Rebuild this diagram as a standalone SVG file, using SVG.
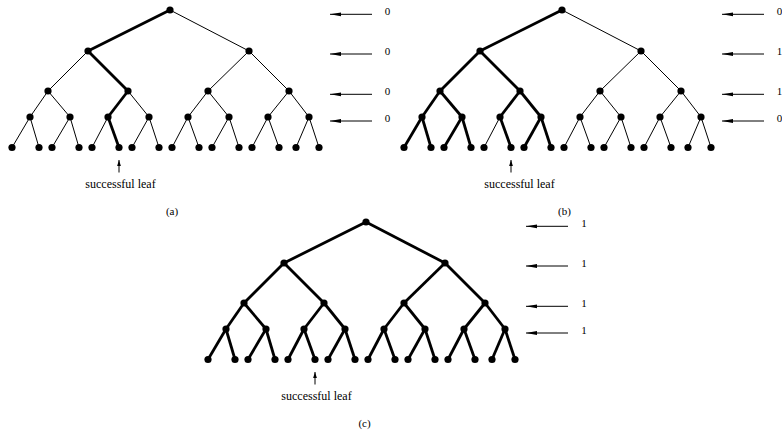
<svg xmlns="http://www.w3.org/2000/svg" width="782" height="433" viewBox="0 0 782 433">
<style>
.t{stroke:#000;stroke-width:1;fill:none}
.b{stroke:#000;stroke-width:2.8;fill:none}
.n{fill:#000}
.ar{stroke:#000;stroke-width:1;fill:none;marker-end:url(#ah)}
.up{stroke:#000;stroke-width:1;fill:none;marker-end:url(#ahs)}
.lab{font-size:11px;text-anchor:middle}
.sl{font-size:12px;text-anchor:middle}
.cap{font-size:11px;text-anchor:middle}
</style>
<defs>
<marker id="ah" markerWidth="11" markerHeight="5" refX="11" refY="2.5" orient="auto" markerUnits="userSpaceOnUse"><path d="M0,0.6 L11,2.5 L0,4.4 Z" fill="#000"/></marker>
<marker id="ahs" markerWidth="6" markerHeight="5" refX="6" refY="2.5" orient="auto" markerUnits="userSpaceOnUse"><path d="M0,0.6 L6,2.5 L0,4.4 Z" fill="#000"/></marker>
</defs>

<!-- ===== Tree (a) ===== -->
<g id="tree-a">
<g id="connectors-a">
<line class="b" x1="170" y1="10" x2="88" y2="51"/>
<line class="t" x1="170" y1="10" x2="249" y2="51"/>
<line class="t" x1="88" y1="51" x2="48" y2="91"/>
<line class="b" x1="88" y1="51" x2="128" y2="91"/>
<line class="t" x1="249" y1="51" x2="208" y2="91"/>
<line class="t" x1="249" y1="51" x2="289" y2="91"/>
<line class="t" x1="48" y1="91" x2="30" y2="117"/>
<line class="t" x1="48" y1="91" x2="70" y2="117"/>
<line class="b" x1="128" y1="91" x2="108" y2="117"/>
<line class="t" x1="128" y1="91" x2="149" y2="117"/>
<line class="t" x1="208" y1="91" x2="188" y2="117"/>
<line class="t" x1="208" y1="91" x2="229" y2="117"/>
<line class="t" x1="289" y1="91" x2="268" y2="117"/>
<line class="t" x1="289" y1="91" x2="309" y2="117"/>
<line class="t" x1="30" y1="117" x2="12" y2="147.5"/>
<line class="t" x1="30" y1="117" x2="39" y2="147.5"/>
<line class="t" x1="70" y1="117" x2="52" y2="147.5"/>
<line class="t" x1="70" y1="117" x2="79" y2="147.5"/>
<line class="t" x1="108" y1="117" x2="92" y2="147.5"/>
<line class="b" x1="108" y1="117" x2="119" y2="147.5"/>
<line class="t" x1="149" y1="117" x2="132" y2="147.5"/>
<line class="t" x1="149" y1="117" x2="159" y2="147.5"/>
<line class="t" x1="188" y1="117" x2="172" y2="147.5"/>
<line class="t" x1="188" y1="117" x2="199" y2="147.5"/>
<line class="t" x1="229" y1="117" x2="212" y2="147.5"/>
<line class="t" x1="229" y1="117" x2="239" y2="147.5"/>
<line class="t" x1="268" y1="117" x2="252" y2="147.5"/>
<line class="t" x1="268" y1="117" x2="279" y2="147.5"/>
<line class="t" x1="309" y1="117" x2="296" y2="147.5"/>
<line class="t" x1="309" y1="117" x2="319" y2="147.5"/>
<line class="ar" x1="372" y1="14.3" x2="330" y2="14.3"/>
<line class="ar" x1="372" y1="54" x2="330" y2="54"/>
<line class="ar" x1="372" y1="94.3" x2="330" y2="94.3"/>
<line class="ar" x1="372" y1="121" x2="330" y2="121"/>
<line class="up" x1="119" y1="172.5" x2="119" y2="160"/>
</g>
<g id="a-r"><circle class="n" cx="170" cy="10" r="3.6"/></g>
<g id="a-l1a"><circle class="n" cx="88" cy="51" r="3.6"/></g>
<g id="a-l1b"><circle class="n" cx="249" cy="51" r="3.6"/></g>
<g id="a-l2a"><circle class="n" cx="48" cy="91" r="3.6"/></g>
<g id="a-l2b"><circle class="n" cx="128" cy="91" r="3.6"/></g>
<g id="a-l2c"><circle class="n" cx="208" cy="91" r="3.6"/></g>
<g id="a-l2d"><circle class="n" cx="289" cy="91" r="3.6"/></g>
<g id="a-l3a"><circle class="n" cx="30" cy="117" r="3.6"/></g>
<g id="a-l3b"><circle class="n" cx="70" cy="117" r="3.6"/></g>
<g id="a-l3c"><circle class="n" cx="108" cy="117" r="3.6"/></g>
<g id="a-l3d"><circle class="n" cx="149" cy="117" r="3.6"/></g>
<g id="a-l3e"><circle class="n" cx="188" cy="117" r="3.6"/></g>
<g id="a-l3f"><circle class="n" cx="229" cy="117" r="3.6"/></g>
<g id="a-l3g"><circle class="n" cx="268" cy="117" r="3.6"/></g>
<g id="a-l3h"><circle class="n" cx="309" cy="117" r="3.6"/></g>
<g id="a-f1"><circle class="n" cx="12" cy="147.5" r="3.6"/></g>
<g id="a-f2"><circle class="n" cx="39" cy="147.5" r="3.6"/></g>
<g id="a-f3"><circle class="n" cx="52" cy="147.5" r="3.6"/></g>
<g id="a-f4"><circle class="n" cx="79" cy="147.5" r="3.6"/></g>
<g id="a-f5"><circle class="n" cx="92" cy="147.5" r="3.6"/></g>
<g id="a-f6"><circle class="n" cx="119" cy="147.5" r="3.6"/></g>
<g id="a-f7"><circle class="n" cx="132" cy="147.5" r="3.6"/></g>
<g id="a-f8"><circle class="n" cx="159" cy="147.5" r="3.6"/></g>
<g id="a-f9"><circle class="n" cx="172" cy="147.5" r="3.6"/></g>
<g id="a-f10"><circle class="n" cx="199" cy="147.5" r="3.6"/></g>
<g id="a-f11"><circle class="n" cx="212" cy="147.5" r="3.6"/></g>
<g id="a-f12"><circle class="n" cx="239" cy="147.5" r="3.6"/></g>
<g id="a-f13"><circle class="n" cx="252" cy="147.5" r="3.6"/></g>
<g id="a-f14"><circle class="n" cx="279" cy="147.5" r="3.6"/></g>
<g id="a-f15"><circle class="n" cx="296" cy="147.5" r="3.6"/></g>
<g id="a-f16"><circle class="n" cx="319" cy="147.5" r="3.6"/></g>
<g font-family="'Liberation Serif', 'Times New Roman', serif" fill="#000">
<text class="lab" x="387.5" y="15">0</text>
<text class="lab" x="387.5" y="54.7">0</text>
<text class="lab" x="387.5" y="95">0</text>
<text class="lab" x="387.5" y="121.7">0</text>
<text class="sl" x="120.5" y="187.5">successful leaf</text>
<text class="cap" x="172" y="215">(a)</text>
</g>
</g>

<!-- ===== Tree (b) ===== -->
<g id="tree-b" transform="translate(392,0)">
<g id="connectors-b">
<line class="b" x1="170" y1="10" x2="88" y2="51"/>
<line class="t" x1="170" y1="10" x2="249" y2="51"/>
<line class="b" x1="88" y1="51" x2="48" y2="91"/>
<line class="b" x1="88" y1="51" x2="128" y2="91"/>
<line class="t" x1="249" y1="51" x2="208" y2="91"/>
<line class="t" x1="249" y1="51" x2="289" y2="91"/>
<line class="b" x1="48" y1="91" x2="30" y2="117"/>
<line class="b" x1="48" y1="91" x2="70" y2="117"/>
<line class="b" x1="128" y1="91" x2="108" y2="117"/>
<line class="b" x1="128" y1="91" x2="149" y2="117"/>
<line class="t" x1="208" y1="91" x2="188" y2="117"/>
<line class="t" x1="208" y1="91" x2="229" y2="117"/>
<line class="t" x1="289" y1="91" x2="268" y2="117"/>
<line class="t" x1="289" y1="91" x2="309" y2="117"/>
<line class="b" x1="30" y1="117" x2="12" y2="147.5"/>
<line class="b" x1="30" y1="117" x2="39" y2="147.5"/>
<line class="b" x1="70" y1="117" x2="52" y2="147.5"/>
<line class="b" x1="70" y1="117" x2="79" y2="147.5"/>
<line class="t" x1="108" y1="117" x2="92" y2="147.5"/>
<line class="b" x1="108" y1="117" x2="119" y2="147.5"/>
<line class="b" x1="149" y1="117" x2="132" y2="147.5"/>
<line class="b" x1="149" y1="117" x2="159" y2="147.5"/>
<line class="t" x1="188" y1="117" x2="172" y2="147.5"/>
<line class="t" x1="188" y1="117" x2="199" y2="147.5"/>
<line class="t" x1="229" y1="117" x2="212" y2="147.5"/>
<line class="t" x1="229" y1="117" x2="239" y2="147.5"/>
<line class="t" x1="268" y1="117" x2="252" y2="147.5"/>
<line class="t" x1="268" y1="117" x2="279" y2="147.5"/>
<line class="t" x1="309" y1="117" x2="296" y2="147.5"/>
<line class="t" x1="309" y1="117" x2="319" y2="147.5"/>
<line class="ar" x1="372" y1="14.3" x2="330" y2="14.3"/>
<line class="ar" x1="372" y1="54" x2="330" y2="54"/>
<line class="ar" x1="372" y1="94.3" x2="330" y2="94.3"/>
<line class="ar" x1="372" y1="121" x2="330" y2="121"/>
<line class="up" x1="119" y1="172.5" x2="119" y2="160"/>
</g>
<g id="b-r"><circle class="n" cx="170" cy="10" r="3.6"/></g>
<g id="b-l1a"><circle class="n" cx="88" cy="51" r="3.6"/></g>
<g id="b-l1b"><circle class="n" cx="249" cy="51" r="3.6"/></g>
<g id="b-l2a"><circle class="n" cx="48" cy="91" r="3.6"/></g>
<g id="b-l2b"><circle class="n" cx="128" cy="91" r="3.6"/></g>
<g id="b-l2c"><circle class="n" cx="208" cy="91" r="3.6"/></g>
<g id="b-l2d"><circle class="n" cx="289" cy="91" r="3.6"/></g>
<g id="b-l3a"><circle class="n" cx="30" cy="117" r="3.6"/></g>
<g id="b-l3b"><circle class="n" cx="70" cy="117" r="3.6"/></g>
<g id="b-l3c"><circle class="n" cx="108" cy="117" r="3.6"/></g>
<g id="b-l3d"><circle class="n" cx="149" cy="117" r="3.6"/></g>
<g id="b-l3e"><circle class="n" cx="188" cy="117" r="3.6"/></g>
<g id="b-l3f"><circle class="n" cx="229" cy="117" r="3.6"/></g>
<g id="b-l3g"><circle class="n" cx="268" cy="117" r="3.6"/></g>
<g id="b-l3h"><circle class="n" cx="309" cy="117" r="3.6"/></g>
<g id="b-f1"><circle class="n" cx="12" cy="147.5" r="3.6"/></g>
<g id="b-f2"><circle class="n" cx="39" cy="147.5" r="3.6"/></g>
<g id="b-f3"><circle class="n" cx="52" cy="147.5" r="3.6"/></g>
<g id="b-f4"><circle class="n" cx="79" cy="147.5" r="3.6"/></g>
<g id="b-f5"><circle class="n" cx="92" cy="147.5" r="3.6"/></g>
<g id="b-f6"><circle class="n" cx="119" cy="147.5" r="3.6"/></g>
<g id="b-f7"><circle class="n" cx="132" cy="147.5" r="3.6"/></g>
<g id="b-f8"><circle class="n" cx="159" cy="147.5" r="3.6"/></g>
<g id="b-f9"><circle class="n" cx="172" cy="147.5" r="3.6"/></g>
<g id="b-f10"><circle class="n" cx="199" cy="147.5" r="3.6"/></g>
<g id="b-f11"><circle class="n" cx="212" cy="147.5" r="3.6"/></g>
<g id="b-f12"><circle class="n" cx="239" cy="147.5" r="3.6"/></g>
<g id="b-f13"><circle class="n" cx="252" cy="147.5" r="3.6"/></g>
<g id="b-f14"><circle class="n" cx="279" cy="147.5" r="3.6"/></g>
<g id="b-f15"><circle class="n" cx="296" cy="147.5" r="3.6"/></g>
<g id="b-f16"><circle class="n" cx="319" cy="147.5" r="3.6"/></g>
<g font-family="'Liberation Serif', 'Times New Roman', serif" fill="#000">
<text class="lab" x="387.5" y="15">0</text>
<text class="lab" x="387.5" y="54.7">1</text>
<text class="lab" x="387.5" y="95">1</text>
<text class="lab" x="387.5" y="121.7">0</text>
<text class="sl" x="127.5" y="187.5">successful leaf</text>
<text class="cap" x="172.5" y="214.5">(b)</text>
</g>
</g>

<!-- ===== Tree (c) ===== -->
<g id="tree-c" transform="translate(196,212)">
<g id="connectors-c">
<line class="b" x1="170" y1="10" x2="88" y2="51"/>
<line class="b" x1="170" y1="10" x2="249" y2="51"/>
<line class="b" x1="88" y1="51" x2="48" y2="91"/>
<line class="b" x1="88" y1="51" x2="128" y2="91"/>
<line class="b" x1="249" y1="51" x2="208" y2="91"/>
<line class="b" x1="249" y1="51" x2="289" y2="91"/>
<line class="b" x1="48" y1="91" x2="30" y2="117"/>
<line class="b" x1="48" y1="91" x2="70" y2="117"/>
<line class="b" x1="128" y1="91" x2="108" y2="117"/>
<line class="b" x1="128" y1="91" x2="149" y2="117"/>
<line class="b" x1="208" y1="91" x2="188" y2="117"/>
<line class="b" x1="208" y1="91" x2="229" y2="117"/>
<line class="b" x1="289" y1="91" x2="268" y2="117"/>
<line class="b" x1="289" y1="91" x2="309" y2="117"/>
<line class="b" x1="30" y1="117" x2="12" y2="147.5"/>
<line class="b" x1="30" y1="117" x2="39" y2="147.5"/>
<line class="b" x1="70" y1="117" x2="52" y2="147.5"/>
<line class="b" x1="70" y1="117" x2="79" y2="147.5"/>
<line class="b" x1="108" y1="117" x2="92" y2="147.5"/>
<line class="b" x1="108" y1="117" x2="119" y2="147.5"/>
<line class="b" x1="149" y1="117" x2="132" y2="147.5"/>
<line class="b" x1="149" y1="117" x2="159" y2="147.5"/>
<line class="b" x1="188" y1="117" x2="172" y2="147.5"/>
<line class="b" x1="188" y1="117" x2="199" y2="147.5"/>
<line class="b" x1="229" y1="117" x2="212" y2="147.5"/>
<line class="b" x1="229" y1="117" x2="239" y2="147.5"/>
<line class="b" x1="268" y1="117" x2="252" y2="147.5"/>
<line class="b" x1="268" y1="117" x2="279" y2="147.5"/>
<line class="b" x1="309" y1="117" x2="296" y2="147.5"/>
<line class="b" x1="309" y1="117" x2="319" y2="147.5"/>
<line class="ar" x1="372" y1="14.3" x2="330" y2="14.3"/>
<line class="ar" x1="372" y1="54" x2="330" y2="54"/>
<line class="ar" x1="372" y1="94.3" x2="330" y2="94.3"/>
<line class="ar" x1="372" y1="121" x2="330" y2="121"/>
<line class="up" x1="119" y1="172.5" x2="119" y2="160"/>
</g>
<g id="c-r"><circle class="n" cx="170" cy="10" r="3.6"/></g>
<g id="c-l1a"><circle class="n" cx="88" cy="51" r="3.6"/></g>
<g id="c-l1b"><circle class="n" cx="249" cy="51" r="3.6"/></g>
<g id="c-l2a"><circle class="n" cx="48" cy="91" r="3.6"/></g>
<g id="c-l2b"><circle class="n" cx="128" cy="91" r="3.6"/></g>
<g id="c-l2c"><circle class="n" cx="208" cy="91" r="3.6"/></g>
<g id="c-l2d"><circle class="n" cx="289" cy="91" r="3.6"/></g>
<g id="c-l3a"><circle class="n" cx="30" cy="117" r="3.6"/></g>
<g id="c-l3b"><circle class="n" cx="70" cy="117" r="3.6"/></g>
<g id="c-l3c"><circle class="n" cx="108" cy="117" r="3.6"/></g>
<g id="c-l3d"><circle class="n" cx="149" cy="117" r="3.6"/></g>
<g id="c-l3e"><circle class="n" cx="188" cy="117" r="3.6"/></g>
<g id="c-l3f"><circle class="n" cx="229" cy="117" r="3.6"/></g>
<g id="c-l3g"><circle class="n" cx="268" cy="117" r="3.6"/></g>
<g id="c-l3h"><circle class="n" cx="309" cy="117" r="3.6"/></g>
<g id="c-f1"><circle class="n" cx="12" cy="147.5" r="3.6"/></g>
<g id="c-f2"><circle class="n" cx="39" cy="147.5" r="3.6"/></g>
<g id="c-f3"><circle class="n" cx="52" cy="147.5" r="3.6"/></g>
<g id="c-f4"><circle class="n" cx="79" cy="147.5" r="3.6"/></g>
<g id="c-f5"><circle class="n" cx="92" cy="147.5" r="3.6"/></g>
<g id="c-f6"><circle class="n" cx="119" cy="147.5" r="3.6"/></g>
<g id="c-f7"><circle class="n" cx="132" cy="147.5" r="3.6"/></g>
<g id="c-f8"><circle class="n" cx="159" cy="147.5" r="3.6"/></g>
<g id="c-f9"><circle class="n" cx="172" cy="147.5" r="3.6"/></g>
<g id="c-f10"><circle class="n" cx="199" cy="147.5" r="3.6"/></g>
<g id="c-f11"><circle class="n" cx="212" cy="147.5" r="3.6"/></g>
<g id="c-f12"><circle class="n" cx="239" cy="147.5" r="3.6"/></g>
<g id="c-f13"><circle class="n" cx="252" cy="147.5" r="3.6"/></g>
<g id="c-f14"><circle class="n" cx="279" cy="147.5" r="3.6"/></g>
<g id="c-f15"><circle class="n" cx="296" cy="147.5" r="3.6"/></g>
<g id="c-f16"><circle class="n" cx="319" cy="147.5" r="3.6"/></g>
<g font-family="'Liberation Serif', 'Times New Roman', serif" fill="#000">
<text class="lab" x="388" y="15">1</text>
<text class="lab" x="388" y="54.7">1</text>
<text class="lab" x="388" y="95">1</text>
<text class="lab" x="388" y="121.7">1</text>
<text class="sl" x="120.5" y="187.5">successful leaf</text>
<text class="cap" x="168.5" y="215">(c)</text>
</g>
</g>
</svg>
